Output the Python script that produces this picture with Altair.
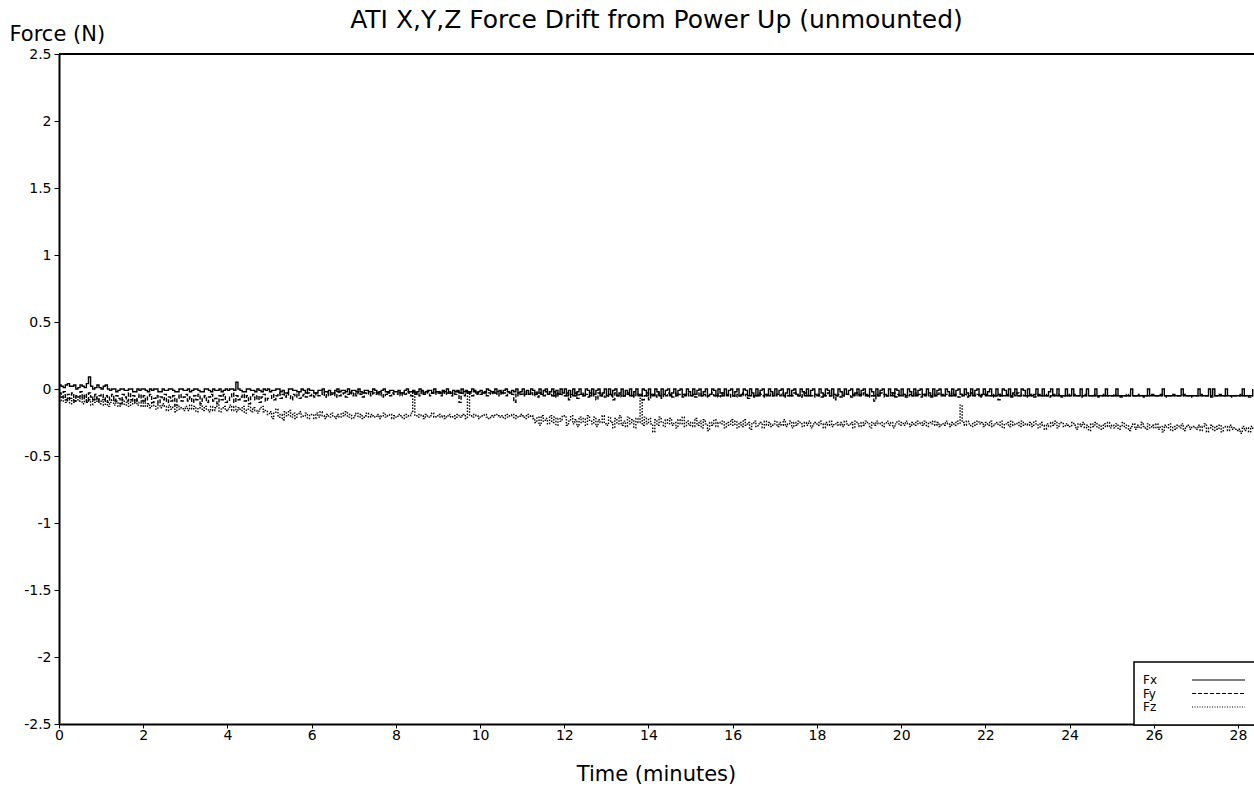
import altair as alt
import pandas as pd

TITLE = "ATI X,Y,Z Force Drift from Power Up (unmounted)"
X_TITLE = "Time (minutes)"
Y_TITLE = "Force (N)"
SERIES = ["Fx", "Fy", "Fz"]
DASHES = [[1, 0], [4, 2], [1.5, 1.5]]
X_TICKS = [0, 2, 4, 6, 8, 10, 12, 14, 16, 18, 20, 22, 24, 26, 28]
Y_TICKS = [-2.5, -2, -1.5, -1, -0.5, 0, 0.5, 1, 1.5, 2, 2.5]
SAMPLE_STEP_MIN = 0.05  # readings every 0.05 minute (3 s)

# readings in hundredths of a newton, one row per minute (20 readings)
fx_cN = [
    3, 2, 1, 3, 4, 2, 2, 3, 0, 1, 3, 2, 1, 4, 9, 2, 0, 1, 3, 1,
    0, 2, 3, 0, -1, 0, 0, -2, -1, 0, 0, -1, -1, 0, 0, -2, -2, 0, -1, 0,
    0, -1, -2, 0, -1, 0, 0, -2, -2, 0, -1, -1, 0, 0, -1, -2, -2, 0, 0, -1,
    -1, 0, -2, -1, 0, 0, -1, -2, -2, 0, 0, -1, -2, 0, -1, -1, 0, -2, -1, 0,
    -1, 0, 0, -1, 5, 0, -1, -2, -2, 0, 0, -1, -1, -2, 0, -1, -2, 0, -1, 0,
    -2, -1, -1, 0, 0, -2, -1, -3, -3, 0, 0, -1, -1, -2, -2, 0, -1, -3, 0, -1,
    -1, -3, -3, -1, -1, 0, -2, -2, -1, -3, -3, -1, 0, -2, -1, -1, -2, 0, -3, -1,
    -1, -2, 0, -2, -3, -1, -1, -2, -2, 0, -1, -3, -2, -1, 0, -2, -3, -1, -1, -2,
    -2, -1, -3, -3, -1, 0, -2, -2, -1, -3, -2, 0, -1, -3, -2, -1, -1, -3, 0, -2,
    -2, -3, -1, -2, 0, -3, -3, -1, -2, -1, -3, 0, -2, -1, -3, -2, 0, -1, -3, -2,
    -1, -3, -3, 0, -1, -2, -3, 0, -2, -1, -3, -1, 0, -2, -3, -1, -2, 0, -3, -2,
    0, -4, -1, -4, 0, -1, -4, -3, 0, -4, -1, 0, -4, -2, 0, -5, -1, -4, 0, -3,
    0, -5, -1, -4, 0, -5, -2, 0, -4, -5, 0, -1, -5, 0, -4, -1, 0, -5, -3, 0,
    -5, 0, -4, -1, 0, -5, -3, 0, -5, -1, -4, 0, -5, -2, 0, -4, -5, 0, -1, -5,
    0, -4, -5, 0, -2, -5, 0, -4, -1, 0, -5, -3, 0, -5, -1, 0, -4, -5, 0, -2,
    -5, 0, -4, -1, 0, -5, -2, 0, -5, -4, 0, -1, -5, 0, -3, -5, 0, -4, -1, 0,
    -5, -2, 0, -5, -4, 0, -1, -5, 0, -3, -5, 0, -5, -1, 0, -4, -5, 0, -2, -5,
    0, -4, -1, 0, -5, -3, 0, -5, -1, 0, -4, -5, 0, -2, -5, 0, -5, -1, 0, -4,
    -5, 0, -3, -5, 0, -1, -5, 0, -4, -5, 0, -2, -5, 0, -4, -1, 0, -5, -3, 0,
    -5, -1, 0, -4, -5, 0, -2, -5, 0, -5, -1, 0, -4, -5, 0, -3, -5, 0, -1, -5,
    0, -4, -5, 0, -2, -5, 0, -5, -1, 0, -4, -5, 0, -3, -5, 0, -5, -1, 0, -4,
    -5, 0, -2, -5, 0, -5, -1, 0, -4, -5, 0, -3, -5, 0, -5, -1, 0, -5, -4, 0,
    -5, -2, 0, -5, -5, 0, -4, -5, 0, -1, -5, 0, -5, -3, 0, -5, -5, 0, -1, -5,
    0, -5, -5, -4, 0, -5, -5, 0, -5, -5, -2, 0, -5, -5, 0, -5, -5, -5, 0, -5,
    -5, 0, -5, -5, -5, 0, -5, -5, 0, -5, -5, -5, 0, -5, -5, -5, -5, 0, -5, -5,
    -5, -5, 0, -5, -5, -5, -5, -5, -5, 0, -5, -5, -5, -5, -5, -5, -5, 0, -5, -5,
    -5, -5, -5, -5, 0, -5, -5, -5, -5, -5, -5, -5, -5, 0, -5, -5, -5, -5, -5, -5,
    -5, 0, -5, -5, -5, -5, 0, -5, 0, -5, -5, -5, -5, -5, 0, -5, -5, -5, -5, -5,
    -5, -5, 0, -5, -5, -5, -5, 0,
]

fy_cN = [
    -3, -6, -2, -8, -4, -7, -3, -9, -5, -6, -2, -7, -4, -10, -3, -6, -8, -4, -9, -5,
    -4, -8, -5, -10, -6, -4, -9, -5, -7, -11, -4, -6, -9, -3, -8, -5, -10, -6, -4, -9,
    -5, -9, -6, -4, -10, -7, -5, -11, -6, -8, -4, -10, -6, -9, -5, -12, -7, -4, -9, -6,
    -4, -9, -6, -10, -5, -8, -4, -11, -7, -5, -10, -6, -4, -9, -7, -11, -5, -8, -4, -10,
    -9, -6, -3, -10, -5, -8, -6, -4, -9, -5, -11, -6, -4, -8, -5, -10, -6, -4, -9, -7,
    -7, -4, -8, -5, -3, -7, -4, -6, -3, -5, -8, -4, -6, -3, -7, -5, -4, -6, -3, -5,
    -4, -6, -3, -5, -4, -2, -6, -3, -5, -4, -3, -6, -2, -5, -4, -3, -6, -4, -2, -5,
    -3, -5, -2, -4, -6, -3, -4, -2, -5, -3, -4, -2, -5, -3, -6, -4, -2, -5, -3, -4,
    -4, -2, -5, -3, -4, -2, -3, -5, -2, -4, -3, -5, -2, -4, -3, -2, -5, -3, -4, -2,
    -3, -5, -2, -4, -3, -2, -5, -3, -4, -2, -10, -3, -5, -2, -4, -3, -5, -2, -4, -3,
    -4, -3, -2, -5, -3, -4, -2, -3, -5, -2, -4, -3, -5, -2, -3, -4, -10, -3, -5, -4,
    -3, -5, -2, -4, -3, -5, -2, -6, -3, -4, -5, -2, -4, -3, -5, -2, -6, -3, -4, -5,
    -5, -3, -8, -4, -5, -3, -7, -4, -5, -3, -4, -6, -3, -5, -4, -8, -3, -5, -4, -6,
    -6, -4, -5, -8, -3, -5, -4, -6, -5, -4, -3, -5, -4, -6, -3, -5, -4, -8, -5, -3,
    -8, -5, -4, -6, -3, -5, -7, -4, -5, -3, -4, -6, -5, -3, -4, -5, -6, -4, -3, -5,
    -5, -4, -6, -5, -3, -5, -4, -6, -5, -4, -3, -5, -4, -6, -5, -3, -4, -5, -6, -4,
    -5, -6, -4, -5, -3, -5, -4, -7, -5, -4, -6, -5, -3, -4, -5, -6, -4, -5, -3, -5,
    -5, -4, -5, -3, -6, -4, -5, -4, -5, -3, -4, -5, -6, -4, -3, -5, -4, -5, -6, -4,
    -4, -5, -6, -4, -5, -3, -5, -4, -8, -5, -4, -6, -5, -3, -4, -5, -6, -4, -5, -3,
    -4, -5, -3, -5, -4, -6, -5, -9, -4, -5, -3, -4, -6, -5, -4, -5, -3, -6, -4, -5,
    -5, -4, -6, -5, -4, -5, -3, -5, -4, -6, -5, -4, -3, -5, -6, -4, -5, -4, -3, -5,
    -5, -4, -5, -3, -5, -4, -5, -6, -4, -5, -4, -6, -5, -3, -4, -5, -4, -6, -5, -4,
    -4, -5, -5, -4, -6, -5, -8, -4, -5, -5, -4, -5, -6, -4, -5, -3, -5, -4, -5, -6,
    -5, -4, -5, -6, -5, -4, -5, -5, -4, -5, -6, -5, -4, -5, -5, -4, -6, -5, -5, -4,
    -5, -5, -4, -5, -5, -6, -5, -4, -5, -5, -5, -4, -5, -6, -5, -5, -4, -5, -5, -5,
    -5, -4, -5, -5, -6, -5, -5, -4, -5, -5, -5, -5, -4, -5, -5, -6, -5, -5, -5, -4,
    -5, -5, -5, -4, -5, -5, -6, -5, -5, -4, -5, -5, -5, -5, -4, -5, -5, -6, -5, -5,
    -5, -5, -4, -5, -5, -5, -5, -6, -5, -5, -5, -4, -5, -5, -5, -5, -5, -6, -5, -5,
    -5, -4, -5, -5, -5, -6, -5, -5,
]

fz_cN = [
    -5, -9, -6, -10, -7, -11, -8, -10, -6, -9, -7, -11, -5, -9, -8, -12, -6, -10, -7, -11,
    -8, -12, -9, -13, -10, -8, -12, -9, -13, -11, -8, -12, -10, -13, -9, -11, -8, -12, -10, -13,
    -9, -13, -11, -14, -10, -13, -15, -12, -14, -11, -13, -16, -12, -15, -13, -17, -12, -15, -14, -16,
    -13, -16, -12, -15, -13, -17, -14, -12, -16, -13, -15, -17, -13, -16, -14, -12, -17, -15, -13, -16,
    -15, -12, -16, -13, -17, -14, -16, -13, -18, -15, -13, -17, -14, -16, -18, -15, -13, -17, -16, -19,
    -17, -22, -18, -15, -21, -19, -23, -17, -20, -16, -21, -18, -22, -19, -17, -21, -20, -18, -22, -19,
    -19, -22, -18, -21, -17, -20, -22, -19, -21, -18, -20, -22, -19, -21, -18, -20, -17, -21, -19, -22,
    -20, -18, -21, -19, -22, -20, -18, -21, -19, -20, -21, -19, -22, -20, -18, -21, -20, -19, -22, -20,
    -21, -19, -20, -22, -19, -21, -20, -18, -2, -20, -21, -19, -20, -22, -19, -21, -20, -18, -21, -20,
    -19, -21, -20, -22, -20, -19, -21, -20, -22, -19, -21, -20, -19, -22, -2, -20, -21, -19, -20, -22,
    -21, -20, -19, -21, -22, -20, -21, -19, -20, -21, -20, -22, -19, -21, -20, -19, -22, -20, -21, -19,
    -20, -22, -19, -21, -20, -22, -25, -21, -27, -20, -24, -22, -26, -20, -25, -21, -27, -22, -24, -20,
    -21, -27, -24, -20, -26, -23, -28, -21, -25, -22, -27, -20, -24, -26, -21, -28, -23, -25, -20, -26,
    -27, -21, -25, -29, -22, -26, -20, -27, -24, -28, -21, -26, -23, -29, -22, -25, -7, -27, -21, -26,
    -22, -26, -32, -23, -27, -21, -25, -28, -23, -26, -22, -27, -25, -29, -23, -26, -21, -28, -24, -27,
    -25, -28, -22, -27, -24, -29, -23, -26, -31, -25, -27, -23, -28, -25, -26, -24, -29, -25, -27, -23,
    -27, -24, -29, -25, -28, -23, -27, -25, -30, -26, -24, -28, -26, -25, -29, -24, -27, -25, -28, -26,
    -24, -28, -25, -27, -23, -28, -26, -24, -29, -25, -27, -24, -26, -28, -25, -27, -24, -29, -26, -25,
    -27, -24, -26, -29, -25, -27, -24, -28, -26, -25, -27, -25, -28, -24, -26, -27, -25, -29, -24, -26,
    -28, -25, -27, -24, -26, -29, -25, -27, -24, -26, -25, -28, -26, -24, -27, -25, -29, -26, -24, -27,
    -25, -27, -24, -26, -28, -25, -27, -24, -26, -25, -27, -24, -28, -25, -26, -24, -27, -25, -28, -26,
    -27, -24, -26, -28, -25, -27, -24, -26, -12, -25, -27, -24, -26, -28, -25, -27, -24, -26, -25, -28,
    -25, -27, -24, -28, -26, -25, -27, -24, -29, -26, -25, -28, -24, -27, -26, -25, -28, -24, -27, -26,
    -27, -25, -28, -24, -26, -29, -25, -27, -30, -26, -28, -25, -27, -24, -29, -26, -25, -28, -26, -27,
    -28, -25, -27, -30, -26, -28, -25, -29, -27, -31, -26, -28, -25, -29, -27, -30, -26, -28, -25, -29,
    -27, -29, -26, -30, -28, -25, -29, -27, -31, -28, -26, -30, -27, -29, -25, -28, -30, -26, -29, -27,
    -29, -26, -30, -28, -32, -27, -29, -26, -31, -28, -30, -27, -29, -26, -31, -28, -27, -30, -28, -29,
    -30, -27, -31, -28, -26, -32, -29, -27, -31, -28, -30, -27, -32, -29, -28, -31, -27, -30, -29, -31,
    -30, -33, -28, -31, -29, -32, -28, -31,
]

rows = []
for name, vals in zip(SERIES, [fx_cN, fy_cN, fz_cN]):
    for i, v in enumerate(vals):
        rows.append({"t": round(i * SAMPLE_STEP_MIN, 2), "force": v / 100.0, "series": name})
df = pd.DataFrame(rows)

FONT = "DejaVu Sans"

lines = alt.Chart(df).mark_line(
    interpolate="step-after", strokeWidth=1.4, color="black", clip=True
).encode(
    x=alt.X(
        "t:Q",
        scale=alt.Scale(domain=[0, 28.38], nice=False, zero=False),
        axis=alt.Axis(
            values=X_TICKS,
            title=X_TITLE,
            titleFontSize=21,
            titleFontWeight="normal",
            titleFont=FONT,
            titleColor="black",
            titleBaseline="alphabetic",
            titleY=56,
            titleX=597,
            labelFont=FONT,
            labelFontSize=14,
            labelColor="black",
            labelPadding=0,
            tickSize=4,
            tickColor="black",
            domainColor="black",
            domainWidth=2,
            grid=False,
            labelFlush=False,
            labelOverlap=False,
        ),
    ),
    y=alt.Y(
        "force:Q",
        scale=alt.Scale(domain=[-2.5, 2.5], nice=False, zero=False),
        axis=alt.Axis(
            values=Y_TICKS,
            labelExpr="toString(datum.value)",
            title=Y_TITLE,
            titleAngle=0,
            titleAlign="left",
            titleBaseline="alphabetic",
            titleX=-50,
            titleY=-14,
            titleFontSize=21,
            titleFontWeight="normal",
            titleFont=FONT,
            titleColor="black",
            labelFont=FONT,
            labelFontSize=14,
            labelColor="black",
            labelPadding=3,
            tickSize=5,
            tickColor="black",
            domainColor="black",
            domainWidth=2,
            grid=False,
            labelOverlap=False,
        ),
    ),
    strokeDash=alt.StrokeDash(
        "series:N",
        scale=alt.Scale(domain=SERIES, range=DASHES),
        legend=None,
    ),
    detail="series:N",
)

# top border of the plot frame
one = pd.DataFrame({"k": [0]})
top_border = alt.Chart(one).mark_rule(color="black", strokeWidth=2).encode(
    x=alt.value(0), x2=alt.value(1195), y=alt.value(0)
)

# legend box drawn inside the plot area (pixel positions relative to the plot)
legend_box = alt.Chart(one).mark_rect(
    fill="white", stroke="black", strokeWidth=1.5
).encode(
    x=alt.value(1075), x2=alt.value(1200), y=alt.value(608), y2=alt.value(671)
)
legend_layers = [legend_box]
LEGEND_DASHES = [[1, 0], [4, 2], [1, 1.5]]
for i, (name, dash) in enumerate(zip(SERIES, LEGEND_DASHES)):
    ypix = 626 + i * 13.5
    lab = pd.DataFrame({"label": [name]})
    legend_layers.append(
        alt.Chart(lab).mark_text(
            align="left", baseline="middle", font=FONT, fontSize=12, color="black"
        ).encode(x=alt.value(1084), y=alt.value(ypix), text="label:N")
    )
    legend_layers.append(
        alt.Chart(lab).mark_rule(
            color="black", strokeWidth=1, strokeDash=dash
        ).encode(x=alt.value(1133), x2=alt.value(1186), y=alt.value(ypix))
    )

chart = alt.layer(lines, top_border, *legend_layers).properties(
    width=1195,
    height=670,
    padding={"left": 59, "top": 54, "right": 0, "bottom": 62},
    autosize=alt.AutoSizeParams(type="none"),
    title=alt.Title(
        TITLE,
        font=FONT,
        fontSize=25,
        fontWeight="normal",
        color="black",
        anchor="middle",
        baseline="alphabetic",
        offset=7,
        dy=37,
    ),
    background="white",
).configure_view(stroke="black", strokeWidth=2).configure(font=FONT)

chart.save("out.html", embed_options={"renderer": "svg", "actions": False})
